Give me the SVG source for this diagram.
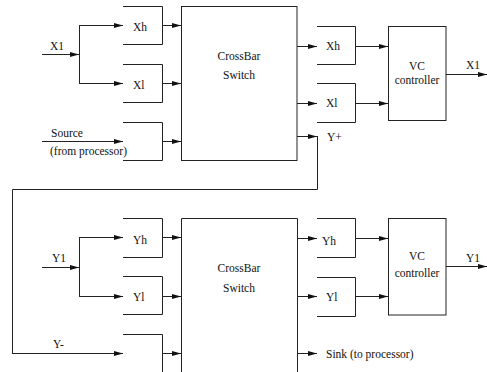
<svg xmlns="http://www.w3.org/2000/svg" width="487" height="372" viewBox="0 0 487 372">
<style>
.l{fill:none;stroke:#222;stroke-width:1}
.a{fill:none;stroke:#222;stroke-width:1;marker-end:url(#ah)}
.t{font-family:"Liberation Serif","Times New Roman",serif;font-size:11.5px;fill:#111}
.c{text-anchor:middle}
</style>
<defs>
<marker id="ah" markerUnits="userSpaceOnUse" markerWidth="10" markerHeight="6" refX="9" refY="3" orient="auto">
<path d="M0,0.5 L9,3 L0,5.5 Z" fill="#111"/>
</marker>
</defs>
<rect width="487" height="372" fill="#fff"/>

<g id="connectors">
<line class="a" x1="42" y1="54.5" x2="79" y2="54.5"/>
<polyline class="l" points="100,25.5 79.5,25.5 79.5,83.5 100,83.5"/>
<line class="a" x1="79" y1="25.5" x2="123" y2="25.5"/>
<line class="a" x1="79" y1="83.5" x2="123" y2="83.5"/>
<line class="a" x1="42" y1="141.5" x2="123" y2="141.5"/>
<line class="a" x1="162" y1="25.5" x2="181" y2="25.5"/>
<line class="a" x1="162" y1="83.5" x2="181" y2="83.5"/>
<line class="a" x1="162" y1="141.5" x2="181" y2="141.5"/>
<line class="a" x1="297" y1="46.5" x2="317" y2="46.5"/>
<line class="a" x1="297" y1="103.5" x2="317" y2="103.5"/>
<line class="a" x1="355" y1="46.5" x2="388" y2="46.5"/>
<line class="a" x1="355" y1="103.5" x2="388" y2="103.5"/>
<line class="a" x1="446" y1="74.5" x2="487" y2="74.5"/>
<line class="a" x1="297" y1="136.5" x2="317" y2="136.5"/>
<polyline class="l" points="317.5,136 317.5,189.5 12.5,189.5 12.5,353.5 100,353.5"/>
<line class="a" x1="12" y1="353.5" x2="123" y2="353.5"/>
<line class="a" x1="42" y1="267.5" x2="79" y2="267.5"/>
<polyline class="l" points="100,237.5 79.5,237.5 79.5,296.5 100,296.5"/>
<line class="a" x1="79" y1="237.5" x2="123" y2="237.5"/>
<line class="a" x1="79" y1="296.5" x2="123" y2="296.5"/>
<line class="a" x1="162" y1="237.5" x2="181" y2="237.5"/>
<line class="a" x1="162" y1="296.5" x2="181" y2="296.5"/>
<line class="a" x1="162" y1="353.5" x2="181" y2="353.5"/>
<line class="a" x1="297" y1="238.5" x2="317" y2="238.5"/>
<line class="a" x1="297" y1="296.5" x2="317" y2="296.5"/>
<line class="a" x1="355" y1="238.5" x2="388" y2="238.5"/>
<line class="a" x1="355" y1="296.5" x2="388" y2="296.5"/>
<line class="a" x1="446" y1="266.5" x2="487" y2="266.5"/>
<line class="a" x1="297" y1="353.5" x2="317" y2="353.5"/>
</g>

<g id="label-x1-in"><text class="t" x="50" y="50">X1</text></g>
<g id="label-source"><text class="t" x="51" y="137">Source</text><text class="t" x="50" y="155">(from processor)</text></g>
<g id="label-y1-in"><text class="t" x="52" y="262">Y1</text></g>
<g id="label-yminus"><text class="t" x="53" y="348">Y-</text></g>
<g id="label-yplus"><text class="t" x="327" y="141">Y+</text></g>
<g id="label-x1-out"><text class="t" x="466" y="69">X1</text></g>
<g id="label-y1-out"><text class="t" x="466" y="262">Y1</text></g>
<g id="label-sink"><text class="t" x="326" y="358">Sink (to processor)</text></g>

<g id="buf-xh-in"><polyline class="l" points="123,6.5 162.5,6.5 162.5,44.5 123,44.5"/><text class="t" x="133" y="31">Xh</text></g>
<g id="buf-xl-in"><polyline class="l" points="123,64.5 162.5,64.5 162.5,102.5 123,102.5"/><text class="t" x="133" y="89">Xl</text></g>
<g id="buf-src-in"><polyline class="l" points="123,122.5 162.5,122.5 162.5,160.5 123,160.5"/></g>
<g id="crossbar-top"><rect class="l" x="181.5" y="6.5" width="115.5" height="154"/><text class="t c" x="239" y="60">CrossBar</text><text class="t c" x="239" y="79">Switch</text></g>
<g id="buf-xh-out"><polyline class="l" points="317,26.5 355.5,26.5 355.5,64.5 317,64.5"/><text class="t" x="326" y="50">Xh</text></g>
<g id="buf-xl-out"><polyline class="l" points="317,83.5 355.5,83.5 355.5,122.5 317,122.5"/><text class="t" x="326" y="107">Xl</text></g>
<g id="vc-top"><rect class="l" x="388.5" y="26.5" width="57.5" height="94"/><text class="t c" x="417" y="70">VC</text><text class="t c" x="417" y="84">controller</text></g>

<g id="buf-yh-in"><polyline class="l" points="123,218.5 162.5,218.5 162.5,257.5 123,257.5"/><text class="t" x="133" y="244">Yh</text></g>
<g id="buf-yl-in"><polyline class="l" points="123,276.5 162.5,276.5 162.5,314.5 123,314.5"/><text class="t" x="133" y="301">Yl</text></g>
<g id="buf-ym-in"><polyline class="l" points="123,334.5 162.5,334.5 162.5,373"/></g>
<g id="crossbar-bottom"><polyline class="l" points="181.5,373 181.5,218.5 297.5,218.5 297.5,373"/><text class="t c" x="239" y="272">CrossBar</text><text class="t c" x="239" y="292">Switch</text></g>
<g id="buf-yh-out"><polyline class="l" points="317,218.5 355.5,218.5 355.5,257.5 317,257.5"/><text class="t" x="322" y="245">Yh</text></g>
<g id="buf-yl-out"><polyline class="l" points="317,277.5 355.5,277.5 355.5,316.5 317,316.5"/><text class="t" x="326" y="301">Yl</text></g>
<g id="vc-bottom"><rect class="l" x="388.5" y="218.5" width="57.5" height="96.5"/><text class="t c" x="417" y="260">VC</text><text class="t c" x="417" y="277">controller</text></g>
</svg>
